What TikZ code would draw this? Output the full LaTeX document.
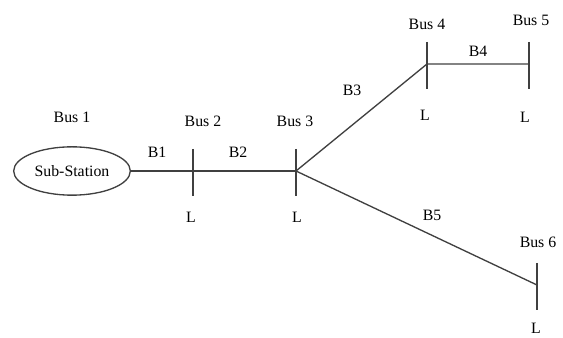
\documentclass[tikz,border=0pt]{standalone}
\usepackage{fontspec}
\setmainfont{Liberation Serif}
\usetikzlibrary{calc,shapes.geometric}
\tikzset{
	wire/.style={line width=0.8pt, color=black!75},
	busbar/.style={line width=0.8pt, color=black!75},
	lbl/.style={font=\fontsize{9.5}{11}\selectfont, inner sep=0pt}
}
\begin{document}
\begin{tikzpicture}[x=0.6pt, y=-0.6pt]
			%%%%% START %%%%%
			\useasboundingbox (0, 0) rectangle (563, 338);
			
			\node[ellipse, draw=black!75, line width=0.8pt, minimum width=70pt, minimum height=29pt, inner sep=0pt, lbl] (sub) at (72, 171) {Sub-Station};
			
			\coordinate (bus2) at (193, 171);
			\coordinate (bus3) at (296, 171);
			\coordinate (bus4) at (427, 64);
			\coordinate (bus5) at (529, 64);
			\coordinate (bus6) at (537, 285);
			
			% bus bars
			\foreach \b in {bus2, bus3, bus4, bus5, bus6}
				\draw[busbar] ($(\b)+(0, -22)$) -- ($(\b)+(0, 25)$);
			
			% lines
			\draw[wire] (sub) -- (bus2) -- (bus3);
			\draw[wire] (bus3) -- (bus4) -- (bus5);
			\draw[wire] (bus3) -- (bus6);
			
			\node[lbl] (n1) at (72, 117) {Bus 1};
			\node[lbl] (n2) at (203, 121) {Bus 2};
			\node[lbl] (n3) at (295, 121) {Bus 3};
			\node[lbl] (n4) at (427, 24) {Bus 4};
			\node[lbl] (n5) at (531, 20) {Bus 5};
			\node[lbl] (n6) at (538, 242) {Bus 6};
			
			\node[lbl] (l1) at (157, 152) {B1};
			\node[lbl] (l2) at (238, 152) {B2};
			\node[lbl] (l3) at (352, 90) {B3};
			\node[lbl] (l4) at (478, 51) {B4};
			\node[lbl] (l5) at (432, 215) {B5};
			
			\node[lbl] (ld2) at (191, 217) {L};
			\node[lbl] (ld3) at (297, 217) {L};
			\node[lbl] (ld4) at (425, 115) {L};
			\node[lbl] (ld5) at (525, 117) {L};
			\node[lbl] (ld6) at (536, 328) {L};
			
			%%%%% END %%%%%
\end{tikzpicture}
\end{document}
